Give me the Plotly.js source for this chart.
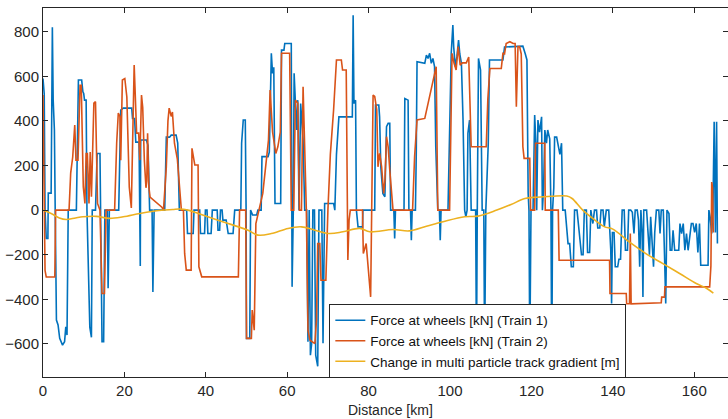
<!DOCTYPE html>
<html>
<head>
<meta charset="utf-8">
<script src="https://cdn.plot.ly/plotly-3.0.1.min.js"></script>
<style>html,body{margin:0;padding:0;background:#fff;}#chart{width:728px;height:419px;}</style>
</head>
<body>
<div id="chart"></div>
<script>
// Train 1 (blue) distance [km] and force [kN]
const dist1 = [0,0.3,0.5,0.8,1.2,1.3,2.0,2.3,2.5,2.6,2.8,3.0,3.3,3.7,4.1,4.8,5.3,5.6,5.9,6.2,8.2,8.7,9.5,9.8,10.0,10.2,10.6,10.8,11.5,11.9,12.1,12.9,13.3,14.0,14.2,14.5,14.9,15.2,15.8,16.0,16.3,18.6,19.1,19.7,21.8,22.0,22.5,22.8,23.6,23.8,23.9,24.0,25.4,25.8,26.2,26.8,27.0,27.3,29.9,30.3,31.1,31.5,32.7,33.1,33.5,35.3,35.5,36.9,37.1,38.5,38.7,39.7,39.9,40.3,40.5,41.3,41.6,42.8,43.0,43.4,43.6,44.0,44.2,45.0,45.5,46.7,47.1,48.6,48.8,49.2,49.7,49.9,50.0,50.8,51.0,51.5,52.5,52.8,53.6,53.8,55.3,55.6,56.1,56.4,56.7,57.0,58.4,58.6,59.2,59.4,61.0,61.2,61.5,61.7,62.0,62.3,62.6,62.9,63.3,63.9,64.3,64.8,65.1,65.4,65.7,66.0,66.3,66.7,67.0,67.5,67.8,68.5,68.8,69.1,69.2,71.4,71.7,72.1,72.5,72.7,76.0,76.2,76.4,76.8,77.0,77.4,78.5,78.6,81.5,81.7,82.5,82.7,83.0,83.5,84.0,84.4,84.8,85.2,85.4,86.2,86.4,86.6,88.7,88.9,89.7,89.9,90.3,90.5,90.7,91.5,91.7,91.9,93.8,94.2,94.6,95.0,95.4,95.8,96.2,96.5,97.0,97.4,97.6,97.8,99.5,99.9,100.3,100.7,100.9,101.3,101.7,102.1,102.4,102.8,103.2,103.6,103.9,104.2,104.4,104.8,105.2,106.3,106.5,106.7,107.0,107.5,107.9,108.3,108.5,108.8,109.4,109.7,113.0,113.4,117.9,118.5,118.9,119.2,119.4,119.6,119.9,120.4,120.8,121.1,121.3,121.6,122.0,122.5,122.7,123.0,123.3,123.7,124.0,124.5,124.8,125.0,125.2,125.5,125.7,126.2,126.5,127.0,127.4,127.7,128.3,128.6,129.0,129.4,129.8,130.3,130.6,131.2,131.5,131.9,132.3,132.7,133.0,133.5,133.8,134.3,134.6,135.1,135.5,136.0,136.3,136.8,137.1,137.6,137.9,138.4,139.0,139.5,139.7,139.9,140.3,140.6,141.2,141.5,141.9,142.3,142.8,143.1,143.6,143.9,144.4,144.8,145.2,145.5,146.0,146.3,146.6,146.9,147.2,147.4,147.6,148.3,148.6,149.0,149.3,149.7,150.0,150.3,150.7,151.3,151.6,151.9,152.4,152.7,153.0,153.3,153.8,154.1,154.5,154.8,155.2,156.2,156.5,156.9,157.3,157.7,158.1,158.5,158.9,159.3,159.7,160.1,160.5,160.9,161.3,161.6,163.4,163.6,163.9,164.3,164.6,164.9,165.2,165.5,165.7];
const force1 = [590,520,0,-127,-127,76,76,820,493,417,359,0,-493,-515,-575,-605,-590,-523,-560,0,0,583,583,530,523,493,493,0,-525,-570,0,0,254,254,0,-590,-590,0,0,-350,0,0,448,457,457,411,411,305,305,0,-250,314,314,290,0,0,-367,0,0,327,327,336,336,300,0,0,-105,-105,0,0,-105,-105,0,0,-105,-105,0,0,-90,-90,0,0,-45,-45,-105,-105,0,0,300,404,404,0,-575,-575,0,-22,-22,0,0,240,240,260,703,613,640,30,30,717,717,747,747,-344,0,613,508,359,493,0,478,314,0,0,-590,0,-650,-600,0,0,-650,-700,0,0,-597,0,30,30,0,250,404,418,418,874,478,493,0,-75,-75,0,0,471,471,418,194,75,60,374,389,389,0,0,-127,0,0,500,493,0,0,-135,0,0,240,665,658,695,680,703,658,680,643,284,0,0,-135,0,0,404,703,830,733,643,688,762,700,658,404,0,-30,0,344,404,0,0,-650,0,680,628,0,0,-650,0,300,673,673,731,735,700,673,76,0,-650,0,0,426,300,0,404,350,418,0,100,359,300,359,320,0,-730,0,100,327,327,300,250,300,0,0,-60,-150,-150,-254,-254,0,0,-60,-150,-200,-200,0,0,-190,-190,0,-60,0,0,-80,-80,0,0,-75,0,0,-180,-419,-100,-100,-254,-254,-220,-220,0,0,-180,-180,0,0,-10,-105,0,0,-45,-254,0,-100,-389,0,0,-105,-200,-30,-190,-254,-100,0,0,-105,0,0,-200,-419,0,-15,-180,-180,-90,-180,-180,-60,-105,-60,-180,-105,-180,-105,-60,-60,-100,-60,-190,-60,-247,-247,0,-30,-105,0,396,-100,396,-150];

// Train 2 (orange)
const dist2 = [0,0.15,0.5,0.8,2.9,3.1,6.4,6.8,7.3,7.8,8.1,8.6,9.1,9.4,9.9,10.3,10.6,10.9,11.3,11.6,11.9,12.5,12.9,13.4,14.0,14.5,15.1,15.5,17.6,18.1,18.5,18.9,19.1,19.5,20.1,20.6,21.2,21.7,22.4,22.6,23.0,23.5,23.8,24.2,24.5,24.9,25.3,25.5,25.7,26.0,26.3,29.2,29.6,30.3,30.7,31.0,31.5,31.8,32.3,33.0,33.5,34.0,34.5,34.8,35.2,36.4,36.6,37.3,38.1,38.3,39.0,48.0,48.3,49.8,50.0,51.2,51.4,51.9,52.3,54.0,55.4,55.8,56.4,57.2,57.7,58.3,58.6,60.6,61.0,61.6,62.0,62.6,63.0,63.5,63.9,64.5,64.7,65.1,65.6,66.8,67.2,67.5,68.0,68.3,69.5,70.0,70.6,71.4,72.1,73.3,73.6,74.5,74.7,74.9,75.2,75.5,78.5,78.7,79.4,79.9,80.5,81.1,81.5,82.0,82.3,82.7,83.2,83.7,84.0,84.4,84.8,85.2,85.6,86.0,90.8,91.3,91.9,93.8,96.6,97.0,99.9,100.2,100.5,101.0,101.5,102.0,102.5,103.0,104.0,104.6,104.9,105.2,108.9,109.3,109.8,112.6,113.0,113.4,113.8,114.7,115.5,116.0,116.3,116.7,117.1,117.5,117.9,118.2,119.6,119.8,120.8,121.0,123.3,123.4,126.6,126.8,139.2,139.3,143.3,143.4,144.1,144.3,144.5,151.9,152.0,152.7,152.8,163.8,164.1,164.3,164.5,164.7];
const force2 = [516,164,-270,-300,-300,0,0,166,238,381,224,224,560,560,105,30,254,254,30,261,60,480,486,30,0,-374,-374,0,0,300,435,420,224,583,590,507,103,10,650,552,345,345,224,516,460,224,100,130,345,105,58,13,0,193,400,457,420,440,300,230,100,0,0,-194,-269,-269,277,202,202,-254,-299,-299,0,0,-575,-575,-448,-538,-60,75,314,538,350,254,284,350,703,703,0,0,493,480,0,0,553,100,0,-538,-583,-598,-493,-150,-150,-314,-314,0,250,450,673,673,628,628,-45,-224,-45,0,0,-194,-150,-250,-389,516,510,450,194,254,194,75,130,329,284,180,75,0,0,240,404,411,643,0,0,404,703,658,628,733,650,660,660,686,400,284,284,500,635,635,703,700,747,755,747,747,463,733,733,700,284,232,232,0,0,300,300,0,0,-225,-225,-374,-374,-420,-420,-105,-420,-415,-390,-390,-344,-344,-250,126,100,-100];

// Change in multi particle track gradient [m]
const distG = [0,2,4,5.7,8,9.8,13.1,16.4,19.7,23.8,27.9,31.9,33.5,35.6,40.5,45.5,50.4,52.8,56.1,60.2,63.5,66.8,70.4,73.7,77.8,80.3,86,90,94.2,98.3,103.6,106.9,111.5,115,118.4,121.3,125,128.7,130,132.6,136,138,140,144.2,148.3,152.3,156.4,160.5,163,164.7];
const grad = [0,-15,-35,-42,-35,-30,-28,-37,-30,-15,-3,3,5,0,-30,-60,-90,-112,-105,-82,-75,-90,-105,-97,-82,-97,-87,-93,-72,-52,-30,-27,0,25,52,58,62,63,52,0,-50,-75,-85,-145,-197,-240,-284,-329,-350,-372];

const xTicks = [0,20,40,60,80,100,120,140,160];
const yTicks = [-600,-400,-200,0,200,400,600,800];

const names = ['Force at wheels [kN] (Train 1)','Force at wheels [kN] (Train 2)','Change in multi particle track gradient [m]'];
const colors = ['#0072BD','#D95319','#EDB120'];

const traces = [
  {x: dist1, y: force1, name: names[0], type:'scatter', mode:'lines', line:{color:colors[0], width:1.6}},
  {x: dist2, y: force2, name: names[1], type:'scatter', mode:'lines', line:{color:colors[1], width:1.6}},
  {x: distG, y: grad, name: names[2], type:'scatter', mode:'lines', line:{color:colors[2], width:1.6, shape:'spline'}}
];

const fam = 'Liberation Sans, Arial, sans-serif';
const axisFont = {family:fam, size:15, color:'#262626'};
const layout = {
  width:728, height:419,
  margin:{l:43, r:0, t:8, b:42},
  paper_bgcolor:'#ffffff', plot_bgcolor:'#ffffff',
  showlegend:true,
  legend:{x:0.418, y:0.198, xanchor:'left', yanchor:'top', bgcolor:'#ffffff', bordercolor:'#262626', borderwidth:1,
          font:{family:fam, size:13.5, color:'#111'}, tracegroupgap:0},
  xaxis:{range:[0,168.3], tickvals:xTicks, ticktext:xTicks.map(String), ticks:'inside', ticklen:5, tickcolor:'#262626',
         showline:true, linecolor:'#262626', linewidth:1, mirror:'ticks', showgrid:false, zeroline:false,
         tickfont:axisFont},
  yaxis:{range:[-748,906], tickvals:yTicks, ticktext:yTicks.map(v=> v<0 ? '\u2212'+Math.abs(v) : String(v)), ticks:'inside', ticklen:5, tickcolor:'#262626',
         showline:true, linecolor:'#262626', linewidth:1, mirror:'ticks', showgrid:false, zeroline:false,
         tickfont:axisFont},
  annotations:[{text:'Distance [km]', xref:'paper', yref:'paper', x:0.507, y:-0.089, xanchor:'center', yanchor:'middle',
                showarrow:false, font:{family:fam, size:14, color:'#262626'}}]
};
Plotly.newPlot('chart', traces, layout, {staticPlot:true, displayModeBar:false});
</script>
</body>
</html>
